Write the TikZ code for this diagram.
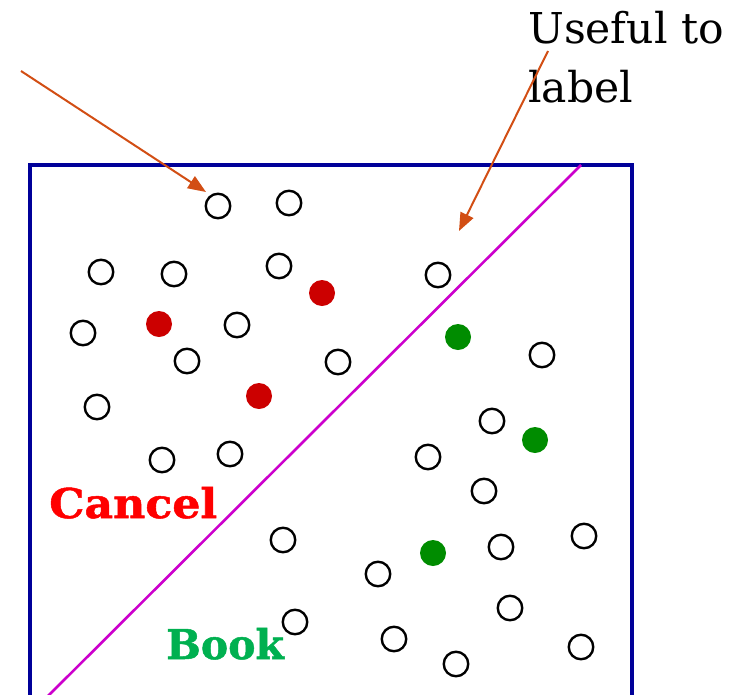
\documentclass[tikz,border=0pt]{standalone}
\usepackage{fontspec}
\setmainfont{DejaVu Serif}
\newfontfamily\heavyserif[FakeBold=1.2]{DejaVu Serif Bold}
\usetikzlibrary{arrows.meta}
\definecolor{framenavy}{HTML}{000099}
\definecolor{splitmag}{HTML}{CC00CC}
\definecolor{pointer}{HTML}{D24E14}
\definecolor{cancelred}{HTML}{FF0000}
\definecolor{dotred}{HTML}{CC0000}
\definecolor{dotgreen}{HTML}{008C00}
\definecolor{bookgreen}{HTML}{00B050}
\begin{document}
\begin{tikzpicture}[x=1pt,y=-1pt,
  open/.style={circle,draw=black,line width=2.4pt,fill=white,minimum size=24.5pt,inner sep=0pt},
  redpt/.style={circle,fill=dotred,minimum size=26pt,inner sep=0pt},
  greenpt/.style={circle,fill=dotgreen,minimum size=26pt,inner sep=0pt},
  pointerarrow/.style={draw=pointer,line width=2pt,-{Triangle[length=18pt,width=14pt]}},
  classlabel/.style={font=\fontsize{41}{41}\heavyserif,inner sep=0pt},
  notetext/.style={font=\fontsize{42.5}{42.5}\selectfont,anchor=base west,inner sep=0pt}]
\useasboundingbox (0,0) rectangle (733,694);
\begin{scope}
\clip (0,0) rectangle (733,694);
% frame of the feature space (bottom runs off the page)
\draw[framenavy,line width=3.5pt] (30,720) -- (30,165) -- (632,165) -- (632,720);
% decision boundary
\coordinate (bTop) at (581,165);
\coordinate (bBot) at (48,696);
\draw[splitmag,line width=2.6pt] (bTop) -- (bBot);
\end{scope}

% unlabeled examples
\node[open] (u1) at (218,206) {};
\node[open] (u2) at (289,203) {};
\node[open] (u3) at (101,272) {};
\node[open] (u4) at (174,274) {};
\node[open] (u5) at (279,266) {};
\node[open] (u6) at (237,325) {};
\node[open] (u7) at (83,333) {};
\node[open] (u8) at (187,361) {};
\node[open] (u9) at (338,362) {};
\node[open] (u10) at (97,407) {};
\node[open] (u11) at (162,460) {};
\node[open] (u12) at (230,454) {};
\node[open] (u13) at (438,275) {};
\node[open] (u14) at (542,355) {};
\node[open] (u15) at (492,421) {};
\node[open] (u16) at (428,457) {};
\node[open] (u17) at (484,491) {};
\node[open] (u18) at (283,540) {};
\node[open] (u19) at (501,547) {};
\node[open] (u20) at (584,536) {};
\node[open] (u21) at (378,574) {};
\node[open] (u22) at (295,622) {};
\node[open] (u23) at (510,608) {};
\node[open] (u24) at (394,639) {};
\node[open] (u25) at (581,647) {};
\node[open] (u26) at (456,664) {};

% labeled examples
\node[redpt] (r1) at (322,293) {};
\node[redpt] (r2) at (159,324) {};
\node[redpt] (r3) at (259,396) {};
\node[greenpt] (g1) at (458,337) {};
\node[greenpt] (g2) at (535,440) {};
\node[greenpt] (g3) at (433,553) {};

% class names
\node[classlabel,text=cancelred,anchor=base west,xscale=1.08] (cancel) at (49,518) {Cancel};
\node[classlabel,text=bookgreen,anchor=base west] (book) at (166,659) {Book};

% annotation
\node[notetext] (use1) at (528,43) {Useful to};
\node[notetext] (use2) at (528,102) {label};

\coordinate (s1) at (21,71);
\coordinate (t1) at (206,192);
\coordinate (s2) at (548,51);
\coordinate (t2) at (459,231);
\draw[pointerarrow] (s1) -- (t1);
\draw[pointerarrow] (s2) -- (t2);
\end{tikzpicture}
\end{document}
